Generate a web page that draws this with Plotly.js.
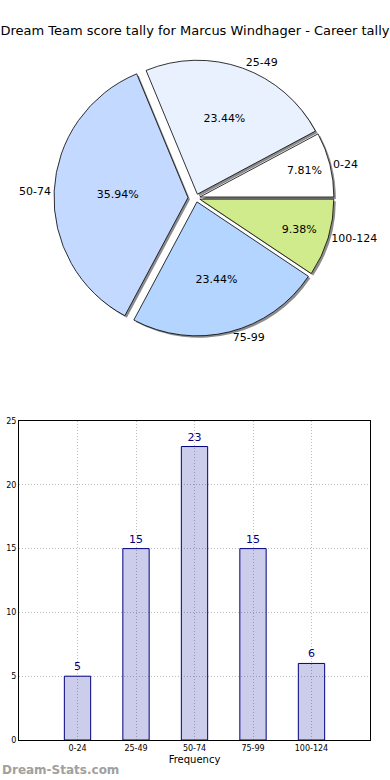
<!DOCTYPE html>
<html>
<head>
<meta charset="utf-8">
<script src="https://cdn.plot.ly/plotly-3.0.1.min.js"></script>
<style>
html,body{margin:0;padding:0;background:#fff;}
#chart{width:390px;height:780px;}
</style>
</head>
<body>
<div id="chart"></div>
<script>
// ---- data ----
const categories = ["0-24", "25-49", "50-74", "75-99", "100-124"];
const counts = [5, 15, 23, 15, 6];
const sliceColors = ["#ffffff", "#e9f1ff", "#c4d9ff", "#b4d5ff", "#d0eb8b"];
const slicePull = [0.03, 0.03, 0.06, 0.03, 0.03];
const yTicks = [0, 5, 10, 15, 20, 25];

// python-like %.2f percent labels (round half to even)
function pctLabel(v, total) {
  const scaled = v / total * 10000;
  const f = Math.floor(scaled);
  const d = scaled - f;
  let n;
  if (Math.abs(d - 0.5) < 1e-9) n = (f % 2 === 0) ? f : f + 1;
  else n = Math.round(scaled);
  return (n / 100).toFixed(2) + "%";
}
const total = counts.reduce((a, b) => a + b, 0);
const pctText = counts.map(v => pctLabel(v, total));
// first slice starts at 3 o'clock and runs counterclockwise
const rot = 90 - 360 * counts[0] / total;

const FONT = "DejaVu Sans, sans-serif";
// paper: x 19..370 px, y 0..740 px
const pieDomX = [35 / 351, 319 / 351];
const pieDomY = [(740 - 340) / 740, (740 - 56) / 740];
const sdx = 2 / 351, sdy = 2 / 740;

const shadow = {
  type: "pie", values: counts, labels: categories, sort: false,
  direction: "counterclockwise", rotation: rot, pull: slicePull,
  domain: {x: [pieDomX[0] + sdx, pieDomX[1] + sdx], y: [pieDomY[0] - sdy, pieDomY[1] - sdy]},
  marker: {colors: categories.map(() => "#8c8c8c"), line: {width: 0}},
  textinfo: "none", hoverinfo: "skip", showlegend: false
};
const pieMain = {
  type: "pie", values: counts, labels: categories, sort: false,
  direction: "counterclockwise", rotation: rot, pull: slicePull,
  domain: {x: pieDomX, y: pieDomY},
  marker: {colors: sliceColors, line: {color: "#000000", width: 0.8}},
  text: pctText, textinfo: "text", textposition: "inside",
  insidetextorientation: "horizontal",
  textfont: {family: FONT, size: 11, color: "#000"},
  hoverinfo: "label+percent", showlegend: false
};
const pieLabels = {
  type: "pie", values: counts, labels: categories, sort: false,
  direction: "counterclockwise", rotation: rot, pull: slicePull,
  domain: {x: pieDomX, y: pieDomY},
  marker: {colors: categories.map(() => "rgba(0,0,0,0)"), line: {width: 0}},
  textinfo: "label", textposition: "outside",
  outsidetextfont: {family: FONT, size: 11, color: "#000"},
  hoverinfo: "skip", showlegend: false
};
const bars = {
  type: "bar", x: categories, y: counts, width: 0.45,
  marker: {color: "rgba(0,0,153,0.2)", line: {color: "#000080", width: 1}},
  text: counts.map(String), textposition: "outside", cliponaxis: false,
  textfont: {family: FONT, size: 11, color: "#000080"},
  xaxis: "x", yaxis: "y", showlegend: false, hoverinfo: "x+y"
};

const layout = {
  width: 390, height: 780,
  margin: {l: 19, r: 20, t: 0, b: 40},
  paper_bgcolor: "#fff", plot_bgcolor: "#fff",
  font: {family: FONT, color: "#000"},
  showlegend: false,
  title: {text: "Dream Team score tally for Marcus Windhager - Career tally",
          font: {family: FONT, size: 13, color: "#000"},
          x: 0.5, xanchor: "center", y: 1 - 30 / 780, yanchor: "middle"},
  xaxis: {domain: [0, 1], type: "category", range: [-1, 5],
          showgrid: true, gridcolor: "#bdbdbd", griddash: "1px,2px", gridwidth: 1,
          showline: true, mirror: true, linecolor: "#000", linewidth: 1,
          ticks: "", tickfont: {family: FONT, size: 8, color: "#000"},
          title: {text: "Frequency", font: {family: FONT, size: 10, color: "#000"}, standoff: 4},
          fixedrange: true, zeroline: false},
  yaxis: {domain: [0, (740 - 421) / 740], range: [0, 25], tickvals: yTicks,
          showgrid: true, gridcolor: "#bdbdbd", griddash: "1px,2px", gridwidth: 1,
          showline: true, mirror: true, linecolor: "#000", linewidth: 1,
          ticks: "", tickfont: {family: FONT, size: 8, color: "#000"},
          zeroline: false, fixedrange: true},
  annotations: [{
    text: "<b>Dream-Stats.com</b>", xref: "paper", yref: "paper",
    x: -19 / 351, y: (740 - 770) / 740, xanchor: "left", yanchor: "middle",
    showarrow: false, font: {family: FONT, size: 12, color: "#a0a0a0"}
  }]
};

Plotly.newPlot("chart", [shadow, pieMain, pieLabels, bars], layout, {displayModeBar: false, staticPlot: true});
</script>
</body>
</html>
